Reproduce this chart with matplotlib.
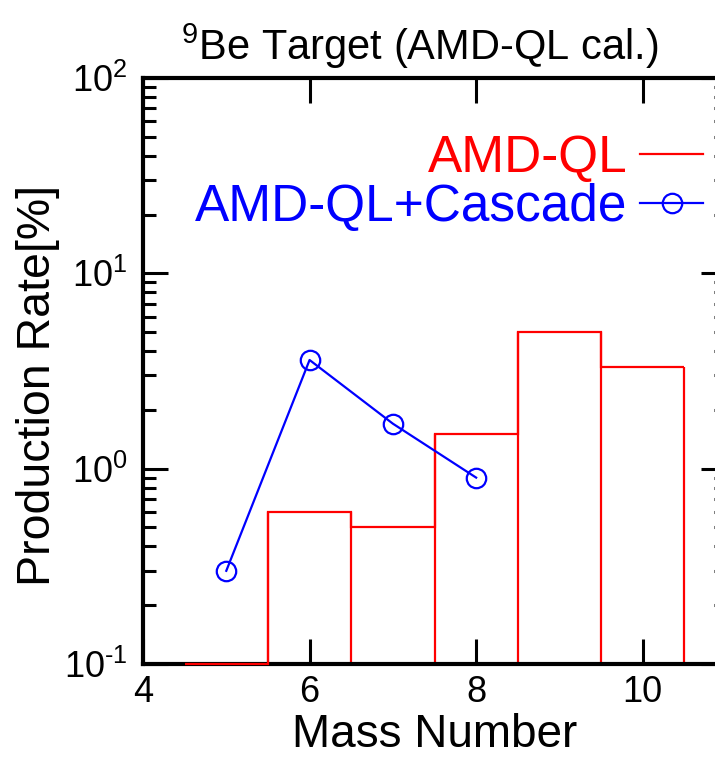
import numpy as np
import matplotlib
matplotlib.use("Agg")
import matplotlib.pyplot as plt
from matplotlib.lines import Line2D
from matplotlib.ticker import FuncFormatter

plt.rcParams['font.family'] = ['Liberation Sans', 'DejaVu Sans']
plt.rcParams['mathtext.fontset'] = 'custom'
plt.rcParams['mathtext.rm'] = 'Liberation Sans'
plt.rcParams['mathtext.it'] = 'Liberation Sans'
plt.rcParams['mathtext.default'] = 'regular'

# AMD-QL histogram (production rate per mass number)
mass_amd = np.array([5, 6, 7, 8, 9, 10])
rate_amd = np.array([0.1, 0.6, 0.5, 1.5, 5.0, 3.3])

# AMD-QL + Cascade
mass_casc = np.array([5, 6, 7, 8])
rate_casc = np.array([0.30, 3.6, 1.7, 0.9])

ymin = 0.1

fig = plt.figure(figsize=(7.15, 7.57), dpi=100)
ax = fig.add_axes([143/715, 1 - 664/757, (726 - 143)/715, (664 - 78)/757])

# histogram drawn as open boxes (no bottom edge)
edges = np.append(mass_amd - 0.5, mass_amd[-1] + 0.5)
ax.stairs(rate_amd, edges, baseline=None, color='red', linewidth=1.6,
          zorder=3, clip_on=False)
padded = np.concatenate([[ymin], rate_amd, [ymin]])
ax.vlines(edges, ymin, np.maximum(padded[:-1], padded[1:]), color='red',
          linewidth=1.6, zorder=2)

ax.plot(mass_casc, rate_casc, color='blue', linewidth=1.6, marker='o',
        markersize=14, markerfacecolor='none', markeredgewidth=1.6, zorder=4)

ax.set_yscale('log')
ax.set_ylim(0.1, 100)
ax.set_xlim(4, 11)
ax.set_xticks([4, 6, 8, 10])
ax.yaxis.set_major_formatter(FuncFormatter(
    lambda v, p: r'$10^{\text{%d}}$' % int(round(np.log10(v)))))

for s in ax.spines.values():
    s.set_linewidth(3)
ax.tick_params(which='major', direction='in', length=18, width=2.2,
               top=True, right=True, labelsize=26, pad=8)
ax.tick_params(axis='y', which='major', pad=11)
ax.tick_params(which='minor', direction='in', length=9, width=2.2,
               top=False, right=True)
ax.tick_params(axis='x', which='minor', bottom=False, top=False)

ax.set_xlabel('Mass Number', fontsize=33, labelpad=2)
ax.set_ylabel('Production Rate[%]', fontsize=33.5)
ax.yaxis.set_label_coords(-0.142, 0.475)
ax.set_title(r'$^{9}$Be Target (AMD-QL cal.)', fontsize=30, x=0.475, pad=13)

h_red = Line2D([], [], color='red', linewidth=1.6)
h_blue = Line2D([], [], color='blue', linewidth=1.6, marker='o', markersize=14,
                markerfacecolor='none', markeredgewidth=1.6)
leg = fig.legend([h_red, h_blue], ['AMD-QL', 'AMD-QL+Cascade'],
                 loc='upper right', bbox_to_anchor=(703/715, 1 - 134/757),
                 frameon=False, fontsize=37, markerfirst=False,
                 handlelength=1.22, handletextpad=0.25, labelspacing=0.0,
                 borderpad=0, borderaxespad=0)
leg.get_texts()[0].set_color('red')
leg.get_texts()[1].set_color('blue')

fig.savefig('out.png', dpi=100)
